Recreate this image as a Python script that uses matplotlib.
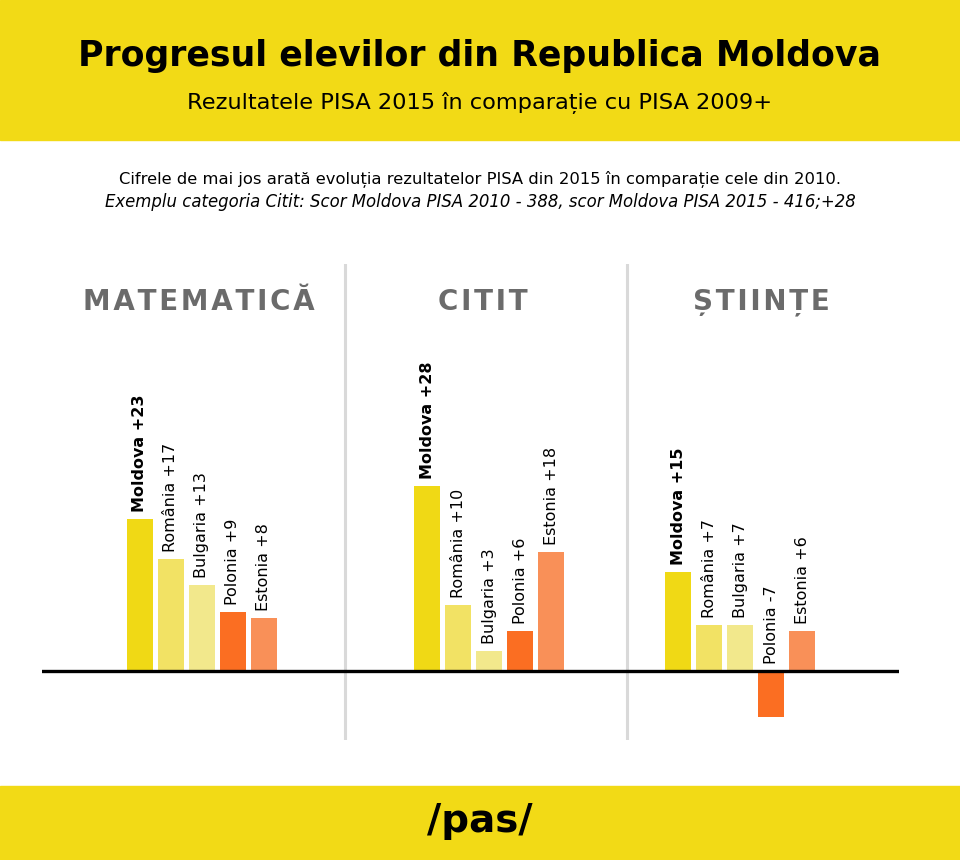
import numpy as np
import matplotlib
matplotlib.use("Agg")
import matplotlib.pyplot as plt
from matplotlib.patches import Rectangle

# ── data ──
subjects  = ["MATEMATICĂ", "CITIT", "ȘTIINȚE"]
countries = ["Moldova", "România", "Bulgaria", "Polonia", "Estonia"]
matematica = [23, 17, 13, 9, 8]
citit      = [28, 10, 3, 6, 18]
stiinte    = [15, 7, 7, -7, 6]
values = [matematica, citit, stiinte]

title    = "Progresul elevilor din Republica Moldova"
subtitle = "Rezultatele PISA 2015 în comparație cu PISA 2009+"
note1 = "Cifrele de mai jos arată evoluția rezultatelor PISA din 2015 în comparație cele din 2010."
note2 = "Exemplu categoria Citit: Scor Moldova PISA 2010 - 388, scor Moldova PISA 2015 - 416;+28"

# ── style ──
YELLOW = "#F2DA16"
BAR_COLORS = ["#F0D915", "#F2E264", "#F2E88C", "#FB6E22", "#F99058"]
GRAY = "#6B6B6B"
W, H = 960, 860

fig = plt.figure(figsize=(W / 100, H / 100), dpi=100)
fig.patch.set_facecolor("white")

def fy(px):  # pixel-from-top -> figure fraction
    return 1 - px / H

# yellow bands
fig.add_artist(Rectangle((0, fy(140)), 1, 140 / H, transform=fig.transFigure,
                         color=YELLOW, zorder=0))
fig.add_artist(Rectangle((0, 0), 1, (H - 786) / H, transform=fig.transFigure,
                         color=YELLOW, zorder=0))

fig.text(0.5, fy(56), title, ha="center", va="center", fontsize=25,
         fontweight="bold", color="black")
fig.text(0.5, fy(103), subtitle, ha="center", va="center", fontsize=16.2, color="black")
fig.text(0.5, fy(179), note1, ha="center", va="center", fontsize=11.8, color="black")
fig.text(0.5, fy(202), note2, ha="center", va="center", fontsize=11.9,
         style="italic", color="black")
fig.text(0.5, fy(821), "/pas/", ha="center", va="center", fontsize=28,
         fontweight="bold", color="black")

# ── chart ──
left_px, right_px, top_px, bot_px = 42, 899, 264, 740
ax = fig.add_axes([left_px / W, fy(bot_px), (right_px - left_px) / W, (bot_px - top_px) / H])
ax.set_xlim(0, (right_px - left_px) / 31)
ax.set_ylim(-69 / 6.6, 407 / 6.6)
ax.axis("off")

group_start = [3.16, 12.42, 20.52]
for gi, (subj, vals) in enumerate(zip(subjects, values)):
    xs = group_start[gi] + np.arange(len(vals))
    ax.bar(xs, vals, width=0.84, color=BAR_COLORS, zorder=2)
    for k, (x, v, c) in enumerate(zip(xs, vals, countries)):
        lab = f"{c} {'+' if v > 0 else ''}{v}"
        ax.annotate(lab, (x, max(v, 0)), xytext=(0, 5), textcoords="offset points",
                    rotation=90, ha="center", va="bottom", fontsize=11.5,
                    fontweight="bold" if k == 0 else "normal", zorder=3)

for sx in [9.76, 18.87]:
    ax.axvline(sx, color="#D9D9D9", lw=2.2, zorder=1)
ax.axhline(0, color="black", lw=2.4, zorder=4)

# letter-spaced section headers
for cx, subj in zip([199, 483, 761], subjects):
    fig.text(cx / W, fy(302), "\u200a".join(subj), ha="center", va="center",
             fontsize=20, fontweight="bold", color=GRAY)

fig.savefig("out.png", dpi=100)
